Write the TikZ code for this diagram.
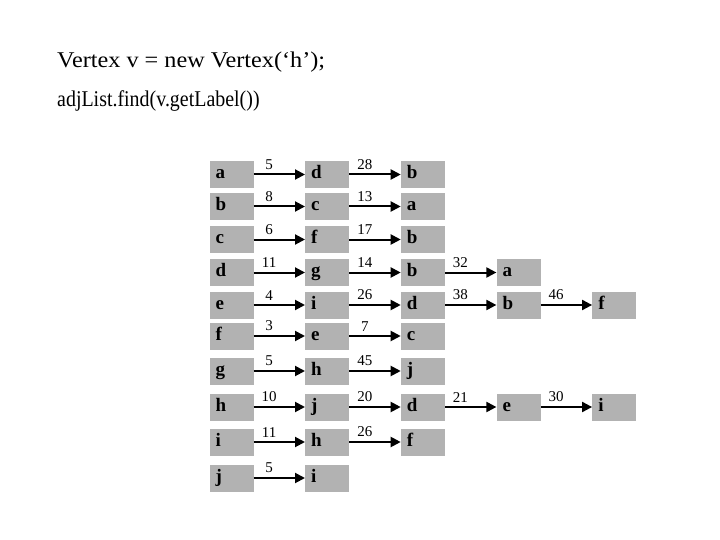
\documentclass[tikz,border=0pt]{standalone}
\usepackage{fontspec}
\setmainfont{Liberation Serif}
\usetikzlibrary{arrows.meta}
\definecolor{cellgray}{RGB}{178,178,178}

\begin{document}
\begin{tikzpicture}[x=1pt,y=-1pt,>={Triangle[length=10pt,width=10pt]},
	code/.style={anchor=base west,inner sep=0pt,font=\fontsize{22.5}{22.5}\selectfont},
	cell/.style={fill=cellgray,minimum height=27pt,text width=32pt,inner xsep=6pt,
		align=left,text height=9pt,text depth=1pt,font=\fontsize{19}{19}\selectfont\bfseries},
	link/.style={->,line width=2pt},
	wt/.style={above=4pt,pos=0.3,inner sep=0pt,font=\fontsize{15}{15}\selectfont}]
	
	%----------------------
	% Parameters
	%----------------------
	\def\xfirst{231.5}   % centre of the vertex column
	\def\colstep{95.7}   % distance between list cells
	
	\useasboundingbox (0,0) rectangle (720,540);
	
	% Code lines
	\node[code] (line1) at (57,68) {\scalebox{1.077}[1]{Vertex v = new Vertex(‘h’);}};
	\node[code] (line2) at (57,107) {\scalebox{0.886}[1]{adjList.find(v.getLabel())}};
	
	%----------------------
	% Adjacency lists
	%----------------------
	\foreach \v/\y/\nbrs in {
		a/174.5/{5/d,28/b},
		b/206.5/{8/c,13/a},
		c/239.5/{6/f,17/b},
		d/272.5/{11/g,14/b,32/a},
		e/305/{4/i,26/d,38/b,46/f},
		f/336/{3/e,7/c},
		g/371/{5/h,45/j},
		h/407/{10/j,20/d,21/e,30/i},
		i/442/{11/h,26/f},
		j/478/{5/i}}{
		
		% vertex cell
		\node[cell] (\v0) at (\xfirst,\y) {\v};
		
		% neighbour cells with edge weights
		\foreach \w/\u [count=\c, remember=\c as \p (initially 0)] in \nbrs {
			\node[cell] (\v\c) at (\xfirst+\colstep*\c,\y) {\u};
			\draw[link] (\v\p) -- node[wt]{\w} (\v\c);
		}
	}
	
\end{tikzpicture}
\end{document}
